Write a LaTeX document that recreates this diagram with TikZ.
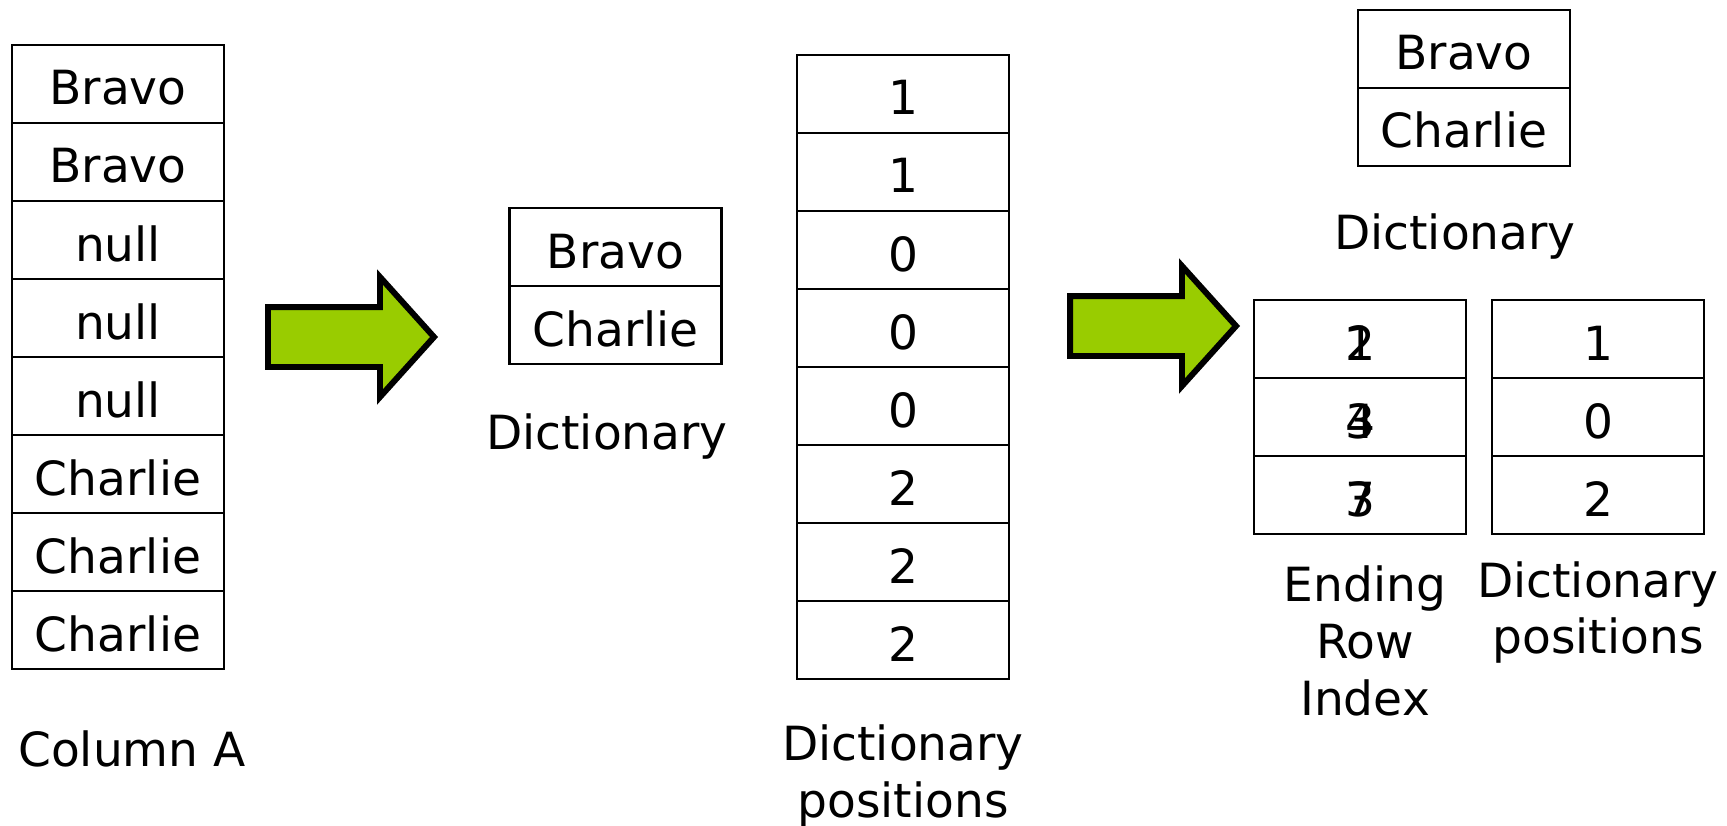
\documentclass[tikz,border=0pt]{standalone}
\usepackage{fontspec}
\setmainfont{DejaVu Sans}
\usetikzlibrary{positioning,shapes.arrows}
\definecolor{arrowgreen}{HTML}{99CC00}

\begin{document}
\begin{tikzpicture}[
  font=\fontsize{13.4pt}{16.1pt}\selectfont,
  cell/.style={draw, line width=0.8pt, outer sep=0pt, inner sep=0pt, text height=0.42cm, text depth=0pt,
    minimum width=2.12cm, minimum height=0.78cm},
  caption/.style={align=center, inner sep=0pt},
  bigarrow/.style={single arrow, draw, line width=1.7pt, fill=arrowgreen, outer sep=0pt,
    inner xsep=0pt, inner ysep=0.27cm, single arrow head extend=0.30cm,
    single arrow tip angle=96, anchor=tail}
]
\useasboundingbox (0,0) rectangle (17.27,-8.26);

% original column
\node[cell] at (1.18,-0.84) (colA1) {Bravo};
\node[cell, below=0pt of colA1] (colA2) {Bravo};
\node[cell, below=0pt of colA2] (colA3) {null};
\node[cell, below=0pt of colA3] (colA4) {null};
\node[cell, below=0pt of colA4] (colA5) {null};
\node[cell, below=0pt of colA5] (colA6) {Charlie};
\node[cell, below=0pt of colA6] (colA7) {Charlie};
\node[cell, below=0pt of colA7] (colA8) {Charlie};
\node[caption] at (1.32,-7.49) (colAcap) {Column A};

\node[bigarrow, minimum height=1.66cm] at (2.68,-3.37) (stepA) {};

% dictionary encoding
\node[cell] at (6.155,-2.47) (dictA1) {Bravo};
\node[cell, below=0pt of dictA1] (dictA2) {Charlie};
\node[caption] at (6.07,-4.37) (dictAcap) {Dictionary};

\node[cell] at (9.03,-0.94) (posA1) {1};
\node[cell, below=0pt of posA1] (posA2) {1};
\node[cell, below=0pt of posA2] (posA3) {0};
\node[cell, below=0pt of posA3] (posA4) {0};
\node[cell, below=0pt of posA4] (posA5) {0};
\node[cell, below=0pt of posA5] (posA6) {2};
\node[cell, below=0pt of posA6] (posA7) {2};
\node[cell, below=0pt of posA7] (posA8) {2};
\node[caption] at (9.03,-7.76) (posAcap) {Dictionary\\positions};

\node[bigarrow, minimum height=1.66cm] at (10.70,-3.26) (stepB) {};

% run length encoding
\node[cell] at (14.64,-0.49) (dictB1) {Bravo};
\node[cell, below=0pt of dictB1] (dictB2) {Charlie};
\node[caption] at (14.55,-2.37) (dictBcap) {Dictionary};

\node[cell] at (13.60,-3.39) (endB1) {\rlap{2}1};
\node[cell, below=0pt of endB1] (endB2) {\rlap{4}3};
\node[cell, below=0pt of endB2] (endB3) {\rlap{7}3};
\node[caption] at (13.65,-6.41) (endBcap) {Ending\\Row\\Index};

\node[cell] at (15.98,-3.39) (posB1) {1};
\node[cell, below=0pt of posB1] (posB2) {0};
\node[cell, below=0pt of posB2] (posB3) {2};
\node[caption] at (15.98,-6.125) (posBcap) {Dictionary\\positions};
\end{tikzpicture}
\end{document}
